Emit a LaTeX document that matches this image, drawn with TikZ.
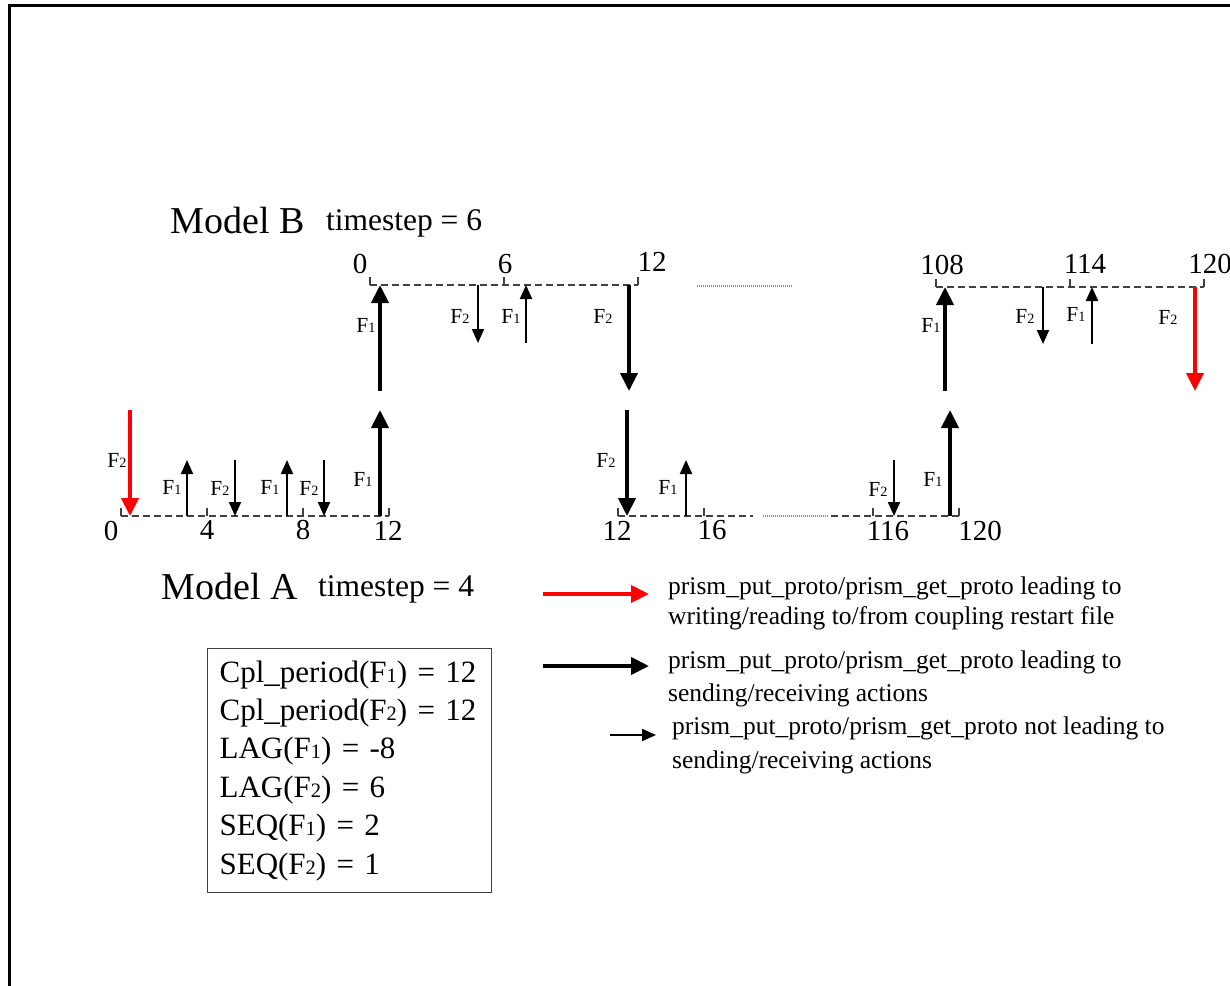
\documentclass[tikz,border=0pt]{standalone}
\usepackage{fontspec}
\setmainfont{Liberation Serif}
\usepackage{graphicx}
\usetikzlibrary{arrows.meta}
\newcommand{\sdig}[1]{\scalebox{0.66}{#1}}
\tikzset{
  bigarr/.style={line width=4pt, -{Triangle[width=17pt,length=18pt]}},
  smallarr/.style={line width=2pt, -{Triangle[width=12pt,length=14pt]}},
  redarr/.style={bigarr, draw=red, color=red},
  tline/.style={draw=black!75, line width=1.2pt, dash pattern=on 7pt off 4pt},
  tickmark/.style={draw=black!75, line width=1.2pt},
  dotline/.style={draw=black!45, line width=1.2pt, dash pattern=on 1pt off 1pt},
  flab/.style={font=\fontsize{21.5}{21.5}\selectfont, inner sep=0pt},
  num/.style={font=\fontsize{29}{29}\selectfont, inner sep=0pt},
  title/.style={font=\fontsize{38}{38}\selectfont, inner sep=0pt},
  subtitle/.style={font=\fontsize{31.5}{31.5}\selectfont, inner sep=0pt},
  legtext/.style={font=\fontsize{25.5}{30}\selectfont, inner sep=0pt, align=left, anchor=west},
}
\begin{document}
\begin{tikzpicture}[x=1pt,y=-1pt]
\useasboundingbox (0,0) rectangle (1230,985);
% frame
\coordinate (fbl) at (9,990);
\coordinate (ftl) at (9,5);
\coordinate (ftr) at (1235,5);
\draw[line width=3pt] (fbl) -- (ftl) -- (ftr);

% titles
\node[title] (mb) at (238,220) {Model B};
\node[subtitle] (mbts) at (404,223) {timestep = 6};
\node[title] (ma) at (230,586) {Model A};
\node[subtitle] (mats) at (396,589) {timestep = 4};

% ---------- Model B timeline, first part
\coordinate (b0) at (370,285);
\coordinate (b6) at (504,285);
\coordinate (b12) at (638,285);
\draw[tline] (b0) -- (b12);
\foreach \c in {b0,b6,b12} \draw[tickmark] (\c) -- ++(0,-8);
\node[num] (lb0) at (360,264) {0};
\node[num] (lb6) at (505,264) {6};
\node[num] (lb12) at (652,262) {12};
\coordinate (dB1) at (697,286);
\coordinate (dB2) at (793,286);
\draw[dotline] (dB1) -- (dB2);

% ---------- Model B timeline, last part
\coordinate (b108) at (936,287);
\coordinate (b114) at (1070,287);
\coordinate (b120) at (1204,287);
\draw[tline] (b108) -- (b120);
\foreach \c in {b108,b114,b120} \draw[tickmark] (\c) -- ++(0,-8);
\node[num] (lb108) at (942,265) {108};
\node[num] (lb114) at (1085,264) {114};
\node[num] (lb120) at (1210,264) {120};

% ---------- Model A timeline, first part
\coordinate (a0) at (121,516);
\coordinate (a4) at (207,516);
\coordinate (a8) at (303,516);
\coordinate (a12) at (389,516);
\draw[tline] (a0) -- (a12);
\foreach \c in {a0,a4,a8,a12} \draw[tickmark] (\c) -- ++(0,-8);
\node[num] (la0) at (111,531) {0};
\node[num] (la4) at (207,530) {4};
\node[num] (la8) at (303,530) {8};
\node[num] (la12) at (388,531) {12};

% ---------- Model A timeline, second part
\coordinate (c12) at (618,516);
\coordinate (c16) at (704,516);
\coordinate (c16e) at (753,516);
\coordinate (cd1) at (763,516);
\coordinate (cd2) at (828,516);
\coordinate (c116s) at (831,516);
\coordinate (c116) at (873,516);
\coordinate (c120) at (959,516);
\draw[tline] (c12) -- (c16e);
\draw[dotline] (cd1) -- (cd2);
\draw[tline] (c116s) -- (c120);
\foreach \c in {c12,c16,c116,c120} \draw[tickmark] (\c) -- ++(0,-8);
\node[num] (lc12) at (617,531) {12};
\node[num] (lc16) at (712,530) {16};
\node[num] (lc116) at (888,531) {116};
\node[num] (lc120) at (980,531) {120};

% ---------- arrows Model B first part
\coordinate (p1s) at (380,391); \coordinate (p1e) at (380,285);
\draw[bigarr] (p1s) -- (p1e);
\node[flab] at (366,325) {F\sdig{1}};
\coordinate (p2s) at (478,285); \coordinate (p2e) at (478,343);
\draw[smallarr] (p2s) -- (p2e);
\node[flab] at (460,316) {F\sdig{2}};
\coordinate (p3s) at (526,343); \coordinate (p3e) at (526,285);
\draw[smallarr] (p3s) -- (p3e);
\node[flab] at (511,316) {F\sdig{1}};
\coordinate (p4s) at (629,285); \coordinate (p4e) at (629,391);
\draw[bigarr] (p4s) -- (p4e);
\node[flab] at (603,316) {F\sdig{2}};

% ---------- arrows Model B last part
\coordinate (q1s) at (945,391); \coordinate (q1e) at (945,287);
\draw[bigarr] (q1s) -- (q1e);
\node[flab] at (931,325) {F\sdig{1}};
\coordinate (q2s) at (1043,287); \coordinate (q2e) at (1043,344);
\draw[smallarr] (q2s) -- (q2e);
\node[flab] at (1025,316) {F\sdig{2}};
\coordinate (q3s) at (1092,344); \coordinate (q3e) at (1092,287);
\draw[smallarr] (q3s) -- (q3e);
\node[flab] at (1076,314) {F\sdig{1}};
\coordinate (q4s) at (1195,287); \coordinate (q4e) at (1195,391);
\draw[redarr] (q4s) -- (q4e);
\node[flab] at (1168,317) {F\sdig{2}};

% ---------- arrows Model A first part
\coordinate (r1s) at (130,410); \coordinate (r1e) at (130,516);
\draw[redarr] (r1s) -- (r1e);
\node[flab] at (117,460) {F\sdig{2}};
\coordinate (r2s) at (187,516); \coordinate (r2e) at (187,460);
\draw[smallarr] (r2s) -- (r2e);
\node[flab] at (172,487) {F\sdig{1}};
\coordinate (r3s) at (235,460); \coordinate (r3e) at (235,516);
\draw[smallarr] (r3s) -- (r3e);
\node[flab] at (220,488) {F\sdig{2}};
\coordinate (r4s) at (287,516); \coordinate (r4e) at (287,460);
\draw[smallarr] (r4s) -- (r4e);
\node[flab] at (270,487) {F\sdig{1}};
\coordinate (r5s) at (324,460); \coordinate (r5e) at (324,516);
\draw[smallarr] (r5s) -- (r5e);
\node[flab] at (309,488) {F\sdig{2}};
\coordinate (r6s) at (380,516); \coordinate (r6e) at (380,410);
\draw[bigarr] (r6s) -- (r6e);
\node[flab] at (363,479) {F\sdig{1}};

% ---------- arrows Model A second part
\coordinate (s1s) at (627,410); \coordinate (s1e) at (627,516);
\draw[bigarr] (s1s) -- (s1e);
\node[flab] at (606,460) {F\sdig{2}};
\coordinate (s2s) at (686,516); \coordinate (s2e) at (686,460);
\draw[smallarr] (s2s) -- (s2e);
\node[flab] at (668,487) {F\sdig{1}};
\coordinate (s3s) at (894,460); \coordinate (s3e) at (894,516);
\draw[smallarr] (s3s) -- (s3e);
\node[flab] at (878,489) {F\sdig{2}};
\coordinate (s4s) at (950,516); \coordinate (s4e) at (950,410);
\draw[bigarr] (s4s) -- (s4e);
\node[flab] at (933,479) {F\sdig{1}};

% ---------- legend
\coordinate (l1s) at (543,594); \coordinate (l1e) at (649,594);
\draw[redarr] (l1s) -- (l1e);
\node[legtext] (lt1) at (668,603) {prism\_put\_proto/prism\_get\_proto leading to\\writing/reading to/from coupling restart file};
\coordinate (l2s) at (543,666); \coordinate (l2e) at (649,666);
\draw[bigarr] (l2s) -- (l2e);
\node[legtext, font=\fontsize{25.5}{33}\selectfont] (lt2) at (668,679) {prism\_put\_proto/prism\_get\_proto leading to\\sending/receiving actions};
\coordinate (l3s) at (610,735); \coordinate (l3e) at (656,735);
\draw[smallarr] (l3s) -- (l3e);
\node[legtext, font=\fontsize{25.5}{34}\selectfont] (lt3) at (672,745) {prism\_put\_proto/prism\_get\_proto not leading to\\sending/receiving actions};

% ---------- parameter box
\node[draw=black!75, line width=1.2pt, anchor=north west, minimum width=284pt, minimum height=244pt,
      text width=260pt, inner xsep=12pt, inner ysep=0pt, align=left,
      font=\fontsize{31}{38.4}\selectfont] (params) at (207,648)
  {Cpl\_period(F\sdig{1}) = 12\\Cpl\_period(F\sdig{2}) = 12\\LAG(F\sdig{1}) = -8\\LAG(F\sdig{2}) = 6\\SEQ(F\sdig{1}) = 2\\SEQ(F\sdig{2}) = 1};
\end{tikzpicture}
\end{document}
